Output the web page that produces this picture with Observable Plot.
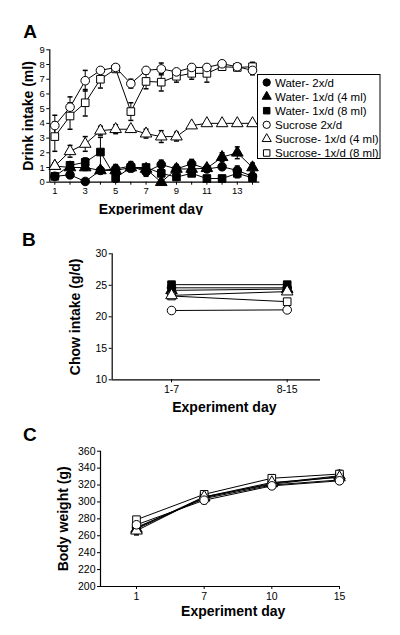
<!DOCTYPE html>
<html><head><meta charset="utf-8">
<script src="https://cdn.jsdelivr.net/npm/d3@7"></script>
<script src="https://cdn.jsdelivr.net/npm/@observablehq/plot@0.6"></script>
<style>
body{margin:0;background:white;}
#wrap{position:relative;width:400px;height:635px;background:white;font-family:"Liberation Sans",Arial,sans-serif;}
#wrap svg{position:absolute;left:0;}
</style></head><body><div id="wrap"></div>
<script>
// ---------- shared series ----------
const seriesNames = ["Water- 2x/d","Water- 1x/d (4 ml)","Water- 1x/d (8 ml)","Sucrose 2x/d","Sucrose- 1x/d (4 ml)","Sucrose- 1x/d (8 ml)"];
const seriesSymbols = ["circle","triangle","square","circle","triangle","square"];
const seriesFills = ["black","black","black","white","white","white"];
const drawOrder = [0,1,2,5,4,3];

// ---------- Panel A: drink intake ----------
const drinkDays = [1,2,3,4,5,6,7,8,9,10,11,12,13,14];
const drinkTicksY = [0,1,2,3,4,5,6,7,8,9];
const drinkWaterTwice  = [0.4,0.5,0.05,0.8,0.9,1.1,0.7,1.2,0.9,1.25,0.9,1.05,0.8,0.4];
const drinkWaterOnce4  = [1.1,1.0,1.0,0.8,0.8,1.0,0.9,0.0,0.9,0.9,0.95,1.7,2.0,1.0];
const drinkWaterOnce8  = [0.4,1.15,1.35,2.05,0.3,1.0,1.0,0.6,0.35,0.6,0.25,0.25,0.6,0.3];
const drinkSucTwice    = [3.85,5.1,6.9,7.6,7.8,6.7,7.6,7.7,7.5,7.8,7.8,8.05,7.85,7.6];
const drinkSucOnce4    = [1.1,2.1,2.6,3.5,3.6,3.6,3.3,3.1,3.1,3.85,4.0,4.0,4.0,4.0];
const drinkSucOnce8    = [3.1,4.5,5.4,7.0,7.7,4.8,6.85,6.8,7.2,7.4,7.4,7.85,7.8,7.85];
const drinkErrWaterTwice = [0.2,0.2,0.1,0.2,0.3,0.3,0.3,0.3,0.2,0.3,0.2,0.2,0.3,0.2];
const drinkErrWaterOnce4 = [0.2,0.2,0.2,0.2,0.3,0.3,0.2,0.1,0.3,0.2,0.2,0.3,0.4,0.3];
const drinkErrWaterOnce8 = [0.2,0.2,0.3,1.0,0.3,0.3,0.2,0.2,0.2,0.2,0.2,0.2,0.3,0.2];
const drinkErrSucTwice   = [0.7,0.7,0.7,0.2,0.2,0.3,0.2,0.4,0.2,0.2,0.2,0.2,0.15,0.3];
const drinkErrSucOnce4   = [0.1,0.4,0.5,0.3,0.3,0.2,0.3,0.4,0.3,0,0,0,0,0];
const drinkErrSucOnce8   = [1.0,0.9,0.9,0.6,0.2,0.6,0.5,0.6,0.4,0.4,0.6,0.2,0.2,0.3];

// ---------- Panel B: chow intake ----------
const chowPeriods = ["1-7","8-15"];
const chowTicksY = [10,15,20,25,30];
const chowWaterTwice = [24.6,24.6];
const chowWaterOnce4 = [24.2,24.4];
const chowWaterOnce8 = [25.1,25.1];
const chowSucTwice   = [21.0,21.1];
const chowSucOnce4   = [23.4,24.0];
const chowSucOnce8   = [23.3,22.4];

// ---------- Panel C: body weight ----------
const weightDays = ["1","7","10","15"];
const weightTicksY = [200,220,240,260,280,300,320,340,360];
const weightWaterTwice = [270,304,320,326];
const weightWaterOnce4 = [268,305,322,331];
const weightWaterOnce8 = [269,306,321,330];
const weightSucTwice   = [273,302,319,325];
const weightSucOnce4   = [266,306,323,329];
const weightSucOnce8   = [279,309,328,333];
const weightErrWaterTwice = [4,4,4,4];
const weightErrWaterOnce4 = [5,4,4,6];
const weightErrWaterOnce8 = [4,4,4,5];
const weightErrSucTwice   = [4,4,4,4];
const weightErrSucOnce4   = [5,3,3,4];
const weightErrSucOnce8   = [3,3,3,4];

// ---------- helpers ----------
function buildRows(xs, valueLists, errLists) {
  return valueLists.flatMap((vals, i) => vals.map((v, j) => ({
    series: i, x: xs[j], y: v, e: errLists ? errLists[i][j] : 0
  })));
}
const cap = {draw(ctx) { const w = 2.5; ctx.moveTo(-w, 0); ctx.lineTo(w, 0); }};

function seriesMarks(rows, r) {
  const withErr = rows.filter(d => d.e > 0);
  const marks = [
    Plot.ruleX(withErr, {x: "x", y1: d => d.y - d.e, y2: d => d.y + d.e, stroke: "black", strokeWidth: 1}),
    Plot.dot(withErr, {x: "x", y: d => d.y + d.e, symbol: cap, stroke: "black", fill: "none", r: 3}),
    Plot.dot(withErr, {x: "x", y: d => d.y - d.e, symbol: cap, stroke: "black", fill: "none", r: 3}),
    Plot.line(rows, {x: "x", y: "y", z: "series", stroke: "black", strokeWidth: 1})
  ];
  for (const i of drawOrder) {
    marks.push(Plot.dot(rows.filter(d => d.series === i), {
      x: "x", y: "y", symbol: seriesSymbols[i], fill: seriesFills[i],
      stroke: "black", strokeWidth: 1, r
    }));
  }
  return marks;
}
function labelMarks(panel, ylab, ydx, xlab, xdx, xdy, pdx, pdy) {
  const common = {fill: "black", fontWeight: "bold", textAnchor: "middle", lineAnchor: "middle"};
  return [
    Plot.text([panel], {...common, frameAnchor: "top-left", dx: pdx, dy: pdy, fontSize: 19}),
    Plot.text([ylab], {...common, frameAnchor: "left", rotate: -90, dx: ydx, fontSize: 14}),
    Plot.text([xlab], {...common, frameAnchor: "bottom", dx: xdx, dy: xdy, fontSize: 14})
  ];
}
const baseStyle = {fontFamily: '"Liberation Sans", Arial, sans-serif', color: "black", background: "white", overflow: "visible"};
const wrap = document.getElementById("wrap");
function place(svg, top) { svg.style.top = top + "px"; wrap.appendChild(svg); return svg; }

// ---------- Panel A ----------
const rowsA = buildRows(drinkDays,
  [drinkWaterTwice, drinkWaterOnce4, drinkWaterOnce8, drinkSucTwice, drinkSucOnce4, drinkSucOnce8],
  [drinkErrWaterTwice, drinkErrWaterOnce4, drinkErrWaterOnce8, drinkErrSucTwice, drinkErrSucOnce4, drinkErrSucOnce8]);
const xDomA = [0.67, 14.48];
const svgA = Plot.plot({
  width: 400, height: 215,
  marginTop: 49.3, marginBottom: 33.3, marginLeft: 49.3, marginRight: 140.7,
  x: {domain: xDomA}, y: {domain: [0, 9]},
  style: baseStyle,
  marks: [
    Plot.axisY(drinkTicksY, {tickSize: 3, tickPadding: 2, fontSize: 9.5, label: null, stroke: "black"}),
    Plot.axisX(drinkDays, {tickSize: 3, tickPadding: 2, fontSize: 9.5, label: null, stroke: "black",
      tickFormat: d => (d % 2 ? String(d) : "")}),
    Plot.ruleX([xDomA[0]], {stroke: "black", strokeWidth: 1.2}),
    Plot.ruleY([0], {stroke: "black", strokeWidth: 1.2}),
    ...seriesMarks(rowsA, 4.3),
    ...labelMarks("A", "Drink intake (ml)", -21, "Experiment day", -4, 27.6, -19.6, -17.6)
  ]
});
place(svgA, 0);

// legend for panel A
{
  const g = d3.select(svgA).append("g").attr("text-anchor", "start");
  const lx = 257.5, ly = 74.5, lw = 122.5, lh = 84;
  g.append("rect").attr("x", lx).attr("y", ly).attr("width", lw).attr("height", lh)
    .attr("fill", "white").attr("stroke", "black").attr("stroke-width", 1);
  const symMap = {circle: d3.symbolCircle, triangle: d3.symbolTriangle, square: d3.symbolSquare};
  const sizes = {circle: 42, triangle: 36, square: 42};
  seriesNames.forEach((name, i) => {
    const cy = 82.5 + 14.1 * i;
    g.append("path").attr("d", d3.symbol(symMap[seriesSymbols[i]], sizes[seriesSymbols[i]])())
      .attr("transform", `translate(266.7,${cy})`)
      .attr("fill", seriesFills[i]).attr("stroke", "black").attr("stroke-width", 1);
    g.append("text").attr("x", 275).attr("y", cy).attr("dy", "0.35em")
      .attr("text-anchor", "start")
      .attr("font-size", 11.5).attr("font-family", '"Liberation Sans", Arial, sans-serif')
      .attr("fill", "black").text(name);
  });
}

// ---------- Panel B ----------
const rowsB = buildRows([0, 1],
  [chowWaterTwice, chowWaterOnce4, chowWaterOnce8, chowSucTwice, chowSucOnce4, chowSucOnce8], null);
const xDomB = [-0.513, 1.288];
const svgB = Plot.plot({
  width: 400, height: 205,
  marginTop: 38.3, marginBottom: 40.7, marginLeft: 111.7, marginRight: 80,
  x: {domain: xDomB}, y: {domain: [10, 30]},
  style: baseStyle,
  marks: [
    Plot.axisY(chowTicksY, {tickSize: 3, tickPadding: 2, fontSize: 10.5, label: null, stroke: "black"}),
    Plot.axisX([0, 1], {tickSize: 3, tickPadding: 3, fontSize: 10.5, label: null, stroke: "black",
      tickFormat: i => chowPeriods[i]}),
    Plot.ruleX([xDomB[0]], {stroke: "black", strokeWidth: 1.2}),
    Plot.ruleY([10], {stroke: "black", strokeWidth: 1.2}),
    ...seriesMarks(rowsB, 4.3),
    ...labelMarks("B", "Chow intake (g/d)", -36.7, "Experiment day", 8, 27.4, -83.4, -14.3)
  ]
});
place(svgB, 215);

// ---------- Panel C ----------
const rowsC = buildRows([0, 1, 2, 3],
  [weightWaterTwice, weightWaterOnce4, weightWaterOnce8, weightSucTwice, weightSucOnce4, weightSucOnce8],
  [weightErrWaterTwice, weightErrWaterOnce4, weightErrWaterOnce8, weightErrSucTwice, weightErrSucOnce4, weightErrSucOnce8]);
const xDomC = [-0.532, 3.015];
const svgC = Plot.plot({
  width: 400, height: 215,
  marginTop: 30.7, marginBottom: 49, marginLeft: 100, marginRight: 60,
  x: {domain: xDomC}, y: {domain: [200, 360]},
  style: baseStyle,
  marks: [
    Plot.axisY(weightTicksY, {tickSize: 3, tickPadding: 2, fontSize: 10.5, label: null, stroke: "black"}),
    Plot.axisX([0, 1, 2, 3], {tickSize: 3, tickPadding: 3, fontSize: 10.5, label: null, stroke: "black",
      tickFormat: i => weightDays[i]}),
    Plot.ruleX([xDomC[0]], {stroke: "black", strokeWidth: 1.2}),
    Plot.ruleY([200], {stroke: "black", strokeWidth: 1.2}),
    ...seriesMarks(rowsC, 4.3),
    ...labelMarks("C", "Body weight (g)", -37, "Experiment day", 12.7, 24.7, -70.7, -16.2)
  ]
});
place(svgC, 420);
</script></body></html>
